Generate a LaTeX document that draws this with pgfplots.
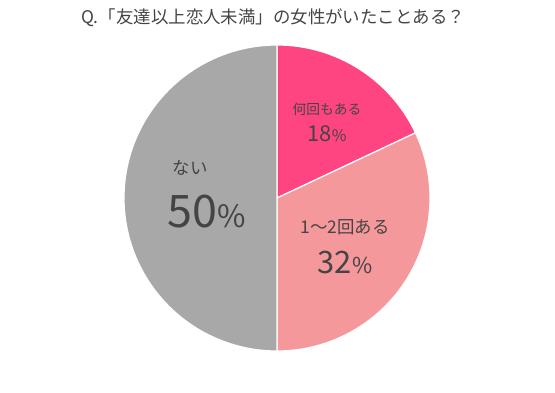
\documentclass[border=0pt]{standalone}
\usepackage{pgfplots}
\pgfplotsset{compat=1.18}
\usepackage{fontspec}
\setmainfont{Noto Sans CJK JP}
\definecolor{cA}{HTML}{FF4482}
\definecolor{cB}{HTML}{F4989C}
\definecolor{cC}{HTML}{A8A8A8}
\definecolor{txt}{HTML}{444444}
\begin{document}
\begin{tikzpicture}
% percentages
\def\pA{18}\def\pB{32}\def\pC{50}
\pgfmathsetmacro\aZ{90}
\pgfmathsetmacro\aA{90-3.6*\pA}
\pgfmathsetmacro\aB{90-3.6*(\pA+\pB)}
\pgfmathsetmacro\aC{90-3.6*(\pA+\pB+\pC)}
\def\cx{277}\def\cy{195}\def\r{153}
\begin{axis}[
  scale only axis, width=555bp, height=393bp,
  xmin=0, xmax=555, ymin=0, ymax=393,
  hide axis, clip=false]
\path (axis cs:0,0) rectangle (axis cs:555,393);
\addplot[fill=cA, draw=white, line width=1.2pt, domain=\aA:\aZ, samples=120] ({\cx+\r*cos(x)},{\cy+\r*sin(x)}) -- (axis cs:\cx,\cy) -- cycle;
\addplot[fill=cB, draw=white, line width=1.2pt, domain=\aB:\aA, samples=160] ({\cx+\r*cos(x)},{\cy+\r*sin(x)}) -- (axis cs:\cx,\cy) -- cycle;
\addplot[fill=cC, draw=white, line width=1.2pt, domain=\aC:\aB, samples=200] ({\cx+\r*cos(x)},{\cy+\r*sin(x)}) -- (axis cs:\cx,\cy) -- cycle;
\node[text=txt, font=\fontsize{17.5}{20}\selectfont] at (axis cs:273,375) {Q.「友達以上恋人未満」の女性がいたことある？};
\node[text=txt, font=\fontsize{13.8}{16}\selectfont] at (axis cs:327,284) {何回もある};
\node[text=txt] at (axis cs:327,259) {{\fontsize{22}{24}\selectfont 18}{\fontsize{16}{18}\selectfont\%}};
\node[text=txt, font=\fontsize{17.5}{20}\selectfont] at (axis cs:345,166) {1〜2回ある};
\node[text=txt] at (axis cs:345,131) {{\fontsize{31}{32}\selectfont 32}{\fontsize{22}{24}\selectfont\%}};
\node[text=txt, font=\fontsize{17.5}{20}\selectfont] at (axis cs:190,225) {ない};
\node[text=txt] at (axis cs:207,181) {{\fontsize{45}{46}\selectfont 50}{\fontsize{31}{32}\selectfont\%}};
\end{axis}
\end{tikzpicture}
\end{document}
